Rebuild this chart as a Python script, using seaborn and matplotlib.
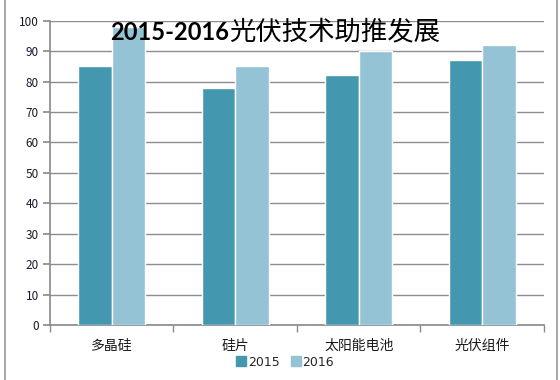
import matplotlib
matplotlib.use("Agg")
import matplotlib.pyplot as plt
import seaborn as sns
import pandas as pd
from matplotlib.lines import Line2D
from matplotlib.ticker import FixedLocator

categories = ["多晶硅", "硅片", "太阳能电池", "光伏组件"]
years = ["2015", "2016"]
values_2015 = [85, 78, 82, 87]
values_2016 = [98, 85, 90, 92]
yticks = [0, 10, 20, 30, 40, 50, 60, 70, 80, 90, 100]
title_num = "2015-2016"
title_cn = "光伏技术助推发展"

df = pd.DataFrame({
    "category": categories * 2,
    "year": [years[0]] * len(categories) + [years[1]] * len(categories),
    "value": values_2015 + values_2016,
})

sns.set_theme(style="white")
plt.rcParams['font.family'] = ['Noto Sans CJK SC', 'DejaVu Sans']

fig = plt.figure(figsize=(5.6, 3.8), dpi=100)
ax = fig.add_axes([0.0893, 0.1447, 0.882, 0.801])

palette = {"2015": "#4397ae", "2016": "#93c3d5"}
sns.barplot(data=df, x="category", y="value", hue="year", order=categories,
            hue_order=years, palette=palette, width=0.54, saturation=1,
            edgecolor="white", linewidth=1, ax=ax, legend=False, zorder=3)

ax.set_ylim(0, 100)
ax.set_xlim(-0.5, 3.5)
ax.set_yticks(yticks)
ax.yaxis.grid(True, color="#8c8c8c", linewidth=1, zorder=0)
ax.set_axisbelow(True)
ax.set_xlabel("")
ax.set_ylabel("")
for s in ["top", "right"]:
    ax.spines[s].set_visible(False)
ax.spines["left"].set_color("#8c8c8c")
ax.spines["bottom"].set_color("#8c8c8c")
ax.tick_params(axis="y", which="both", left=True, length=5, color="#8c8c8c",
               labelsize=8.5, labelcolor="#1a1a2e", pad=3)
ax.tick_params(axis="x", which="major", bottom=False, labelsize=10,
               labelcolor="#1a1a1a", pad=4)
ax.xaxis.set_minor_locator(FixedLocator([-0.5, 0.5, 1.5, 2.5, 3.5]))
ax.tick_params(axis="x", which="minor", bottom=True, length=5, color="#8c8c8c")

handles = [Line2D([0], [0], marker="s", linestyle="", markersize=6.5,
                  markerfacecolor=palette[y], markeredgecolor=palette[y]) for y in years]
fig.legend(handles, years, loc="center", bbox_to_anchor=(0.509, 0.047), ncol=2,
           frameon=False, fontsize=9, handletextpad=0.15, columnspacing=0.9,
           borderaxespad=0, handlelength=0.8,
           prop={"family": ["DejaVu Sans"], "size": 9})

fig.text(0.409, 0.915, title_num, fontsize=17, fontweight="bold", ha="right",
         va="center", family=['Lato', 'DejaVu Sans'], color="black")
fig.text(0.409, 0.915, title_cn, fontsize=19, fontweight="medium", ha="left",
         va="center", family=['Noto Sans CJK SC'], color="black")

fig.add_artist(Line2D([0.009, 0.009], [0, 1], transform=fig.transFigure,
                      color="#9a9a9a", linewidth=1.2))
fig.add_artist(Line2D([0.994, 0.994], [0, 1], transform=fig.transFigure,
                      color="#9a9a9a", linewidth=1.2))

fig.savefig("out.png", dpi=100)
